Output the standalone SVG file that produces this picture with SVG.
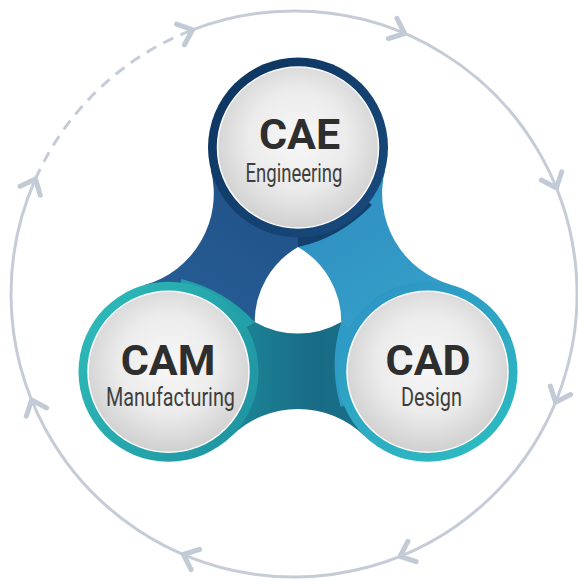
<svg xmlns="http://www.w3.org/2000/svg" width="578" height="582" viewBox="0 0 578 582">
<defs>
<style>
.orbit{fill:none;stroke:#c5ccd7;stroke-width:3}
.dash{stroke-dasharray:11 8}
.chev{fill:none;stroke:#c2cad5;stroke-width:5;stroke-linecap:round;stroke-linejoin:round}
.title{font-family:Roboto,"Liberation Sans",Arial,sans-serif;font-weight:700;font-size:43px;fill:#2e2e2e;text-anchor:middle}
.sub{font-family:Roboto,"Liberation Sans",Arial,sans-serif;font-weight:400;font-size:25.5px;fill:#3f3f3f}
.inner{fill:url(#gInner);stroke:#fbfbfb;stroke-width:1.5}
</style>
<radialGradient id="gInner" cx="0.5" cy="0.45" r="0.55">
<stop offset="0" stop-color="#f7f7f7"/>
<stop offset="0.55" stop-color="#ececec"/>
<stop offset="1" stop-color="#d0d0d0"/>
</radialGradient>
<linearGradient id="gRingCAE" x1="0" y1="0" x2="1" y2="1">
<stop offset="0" stop-color="#0c335d"/>
<stop offset="1" stop-color="#1a4c7f"/>
</linearGradient>
<linearGradient id="gRingCAM" x1="0" y1="0.2" x2="1" y2="0.8">
<stop offset="0" stop-color="#2dbab8"/>
<stop offset="1" stop-color="#1f93a1"/>
</linearGradient>
<linearGradient id="gRingCAD" x1="0.2" y1="0" x2="0.8" y2="1">
<stop offset="0" stop-color="#2f94c6"/>
<stop offset="1" stop-color="#2cbcc0"/>
</linearGradient>
<linearGradient id="gBandR" gradientUnits="userSpaceOnUse" x1="298" y1="147.5" x2="427.5" y2="371.75">
<stop offset="0" stop-color="#2d8abf"/>
<stop offset="1" stop-color="#37a4cb"/>
</linearGradient>
<linearGradient id="gBandB" gradientUnits="userSpaceOnUse" x1="298" y1="147.5" x2="427.5" y2="371.75">
<stop offset="0" stop-color="#1c7890"/>
<stop offset="0.43" stop-color="#186b84"/>
<stop offset="1" stop-color="#209ba7"/>
</linearGradient>
<linearGradient id="gBandL" gradientUnits="userSpaceOnUse" x1="298" y1="147.5" x2="427.5" y2="371.75">
<stop offset="0" stop-color="#29619a"/>
<stop offset="1" stop-color="#1e4e83"/>
</linearGradient>
<path id="band" d="M298,147.5 L385.1,169.9 A95,95 0 0 0 451.6,285 L427.5,371.75 L298,297 Z"/>
<path id="tail" d="M298,247 Q340,238 372,205 L298,147.5 Z"/>
<path id="chevron" d="M-13,-11 L0,0 L-13,11"/>
</defs>
<rect width="578" height="582" fill="#ffffff"/>
<g id="connectors">
<path class="orbit" d="M192.6,29.8 A283,283 0 1 1 35.5,178.9"/>
<path class="orbit dash" d="M35.5,178.9 A283,283 0 0 1 192.6,29.8"/>
<g class="chev">
<use href="#chevron" transform="translate(192.6,29.8) rotate(-21)"/>
<use href="#chevron" transform="translate(404.6,33.5) rotate(23)"/>
<use href="#chevron" transform="translate(556.4,188) rotate(68)"/>
<use href="#chevron" transform="translate(555.5,402.3) rotate(112.5)"/>
<use href="#chevron" transform="translate(400,556.4) rotate(158)"/>
<use href="#chevron" transform="translate(183.4,554.5) rotate(203)"/>
<use href="#chevron" transform="translate(31.6,400) rotate(248)"/>
<use href="#chevron" transform="translate(35.5,178.9) rotate(294)"/>
</g>
<g id="links">
<use href="#band" fill="url(#gBandR)"/>
<use href="#band" fill="url(#gBandB)" transform="rotate(120 298 297)"/>
<use href="#band" fill="url(#gBandL)" transform="rotate(240 298 297)"/>
<use href="#tail" fill="#123f6c"/>
<use href="#tail" fill="#2f9ac6" transform="rotate(120 298 297)"/>
<use href="#tail" fill="#21a0aa" transform="rotate(240 298 297)"/>
<path d="M298,247 A86.6,86.6 0 0 1 341.3,322 A86.6,86.6 0 0 1 254.7,322 A86.6,86.6 0 0 1 298,247 Z" fill="#ffffff"/>
</g>
</g>
<g id="node-cae">
<circle cx="298" cy="147.5" r="90" fill="url(#gRingCAE)"/>
<circle class="inner" cx="298" cy="147.5" r="80.5"/>
<text class="title" x="299.5" y="149">CAE</text>
<text class="sub" x="245.5" y="182" textLength="97" lengthAdjust="spacingAndGlyphs">Engineering</text>
</g>
<g id="node-cam">
<circle cx="168.5" cy="371.75" r="90" fill="url(#gRingCAM)"/>
<circle class="inner" cx="168.5" cy="371.75" r="80.5"/>
<text class="title" x="168" y="374.5">CAM</text>
<text class="sub" x="106" y="406" textLength="129" lengthAdjust="spacingAndGlyphs">Manufacturing</text>
</g>
<g id="node-cad">
<circle cx="427.5" cy="371.75" r="90" fill="url(#gRingCAD)"/>
<circle class="inner" cx="427.5" cy="371.75" r="80.5"/>
<text class="title" x="428" y="374.5">CAD</text>
<text class="sub" x="401" y="406" textLength="61" lengthAdjust="spacingAndGlyphs">Design</text>
</g>
</svg>
